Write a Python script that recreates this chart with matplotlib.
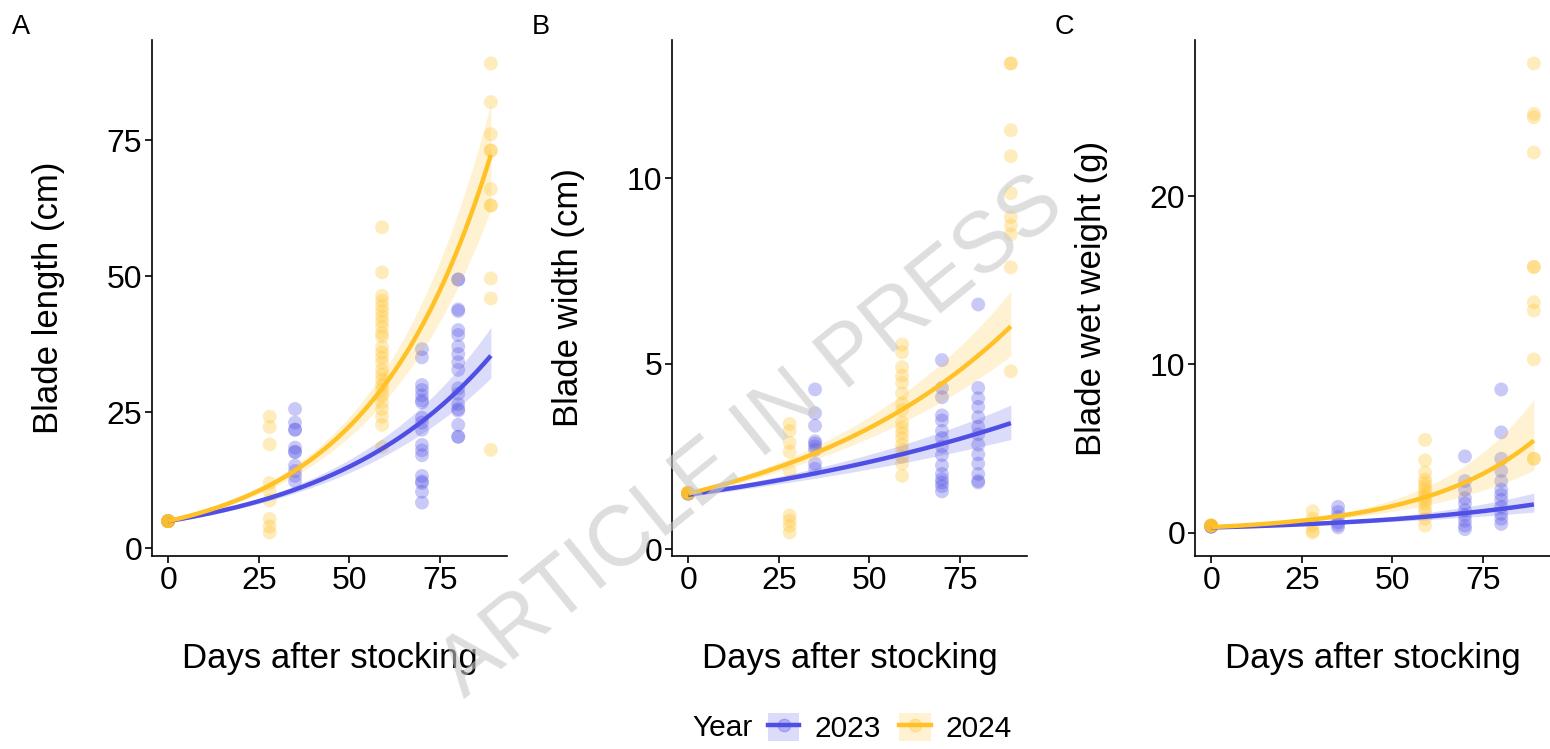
import matplotlib.pyplot as plt
from matplotlib.lines import Line2D
from matplotlib.patches import Patch
import numpy as np

plt.rcParams['font.family'] = ['Liberation Sans', 'DejaVu Sans']

# ---------------- data ----------------
years = ['2023', '2024']
col_2023 = '#4F4FE6'
col_2024 = '#FFC125'

# blade length (cm), values per sampling day
length_2023 = {0: [5.0, 5.0, 5.0],
               35: [25.6, 23.1, 21.8, 21.8, 18.5, 17.7, 17.7, 15.2, 14.2, 13.3, 12.3],
               70: [36.6, 35.1, 30.0, 29.1, 28.1, 27.2, 26.8, 24.0, 23.1, 21.8, 19.0, 18.0,
                    17.1, 13.3, 12.3, 12.0, 10.4, 8.4],
               80: [49.4, 49.4, 43.9, 43.6, 40.1, 39.2, 37.1, 35.7, 34.2, 32.8, 29.4, 28.4,
                    26.5, 25.6, 25.3, 22.7, 20.5, 20.5]}
length_2024 = {0: [5.0] * 8,
               28: [24.2, 22.3, 19.1, 12.0, 10.5, 8.8, 5.4, 4.0, 2.9],
               59: [59.0, 50.7, 46.4, 45.5, 44.5, 43.6, 42.6, 41.7, 40.7, 39.5, 38.9, 37.0,
                    36.0, 35.1, 34.1, 32.8, 31.9, 31.0, 30.0, 29.1, 28.1, 26.8, 25.6, 24.2,
                    22.7, 18.6],
               89: [89.1, 82.0, 76.1, 73.1, 73.1, 66.0, 63.0, 63.0, 49.6, 45.9, 18.1]}

# blade width (cm)
width_2023 = {0: [1.5, 1.5, 1.5],
              35: [4.31, 3.67, 3.33, 2.91, 2.85, 2.77, 2.68, 2.31, 2.17],
              70: [5.10, 4.35, 4.10, 3.61, 3.47, 3.19, 3.00, 2.77, 2.54, 2.26, 2.03, 1.89,
                   1.80, 1.70, 1.56],
              80: [6.60, 4.35, 4.07, 3.84, 3.56, 3.30, 3.10, 2.82, 2.56, 2.31, 2.03, 1.84, 1.80]}
width_2024 = {0: [1.52] * 8,
              28: [3.38, 3.19, 2.87, 2.63, 2.12, 0.91, 0.77, 0.63, 0.45],
              59: [5.52, 5.31, 4.91, 4.68, 4.49, 4.21, 3.93, 3.75, 3.42, 3.28, 3.14, 3.00,
                   2.82, 2.68, 2.49, 2.31, 1.98],
              89: [13.1, 13.1, 11.3, 10.6, 9.6, 8.96, 8.73, 8.49, 7.6, 4.8]}

# blade wet weight (g)
weight_2023 = {0: [0.35, 0.35, 0.35],
               35: [1.53, 1.22, 0.92, 0.61, 0.45, 0.31],
               70: [4.53, 3.06, 2.55, 2.04, 1.73, 1.33, 1.02, 0.71, 0.41, 0.20],
               80: [8.51, 5.96, 4.39, 3.67, 3.06, 2.55, 2.24, 1.94, 1.53, 1.12, 0.82, 0.51]}
weight_2024 = {0: [0.41] * 8,
               28: [1.27, 0.82, 0.41, 0.10, 0.0],
               59: [5.51, 4.29, 3.57, 3.16, 2.96, 2.76, 2.55, 2.35, 2.14, 1.94, 1.73, 1.43,
                    1.22, 0.82, 0.41],
               89: [27.9, 24.9, 24.7, 22.6, 15.8, 15.8, 13.7, 13.2, 10.3, 4.39, 4.39]}

# fitted exponential curves: value at day 0, value at day 89, ribbon at day 89 (lo, hi)
fit_start = {'A': (5.0, 5.0), 'B': (1.47, 1.50), 'C': (0.30, 0.32)}
fit_end = {'A': (35.4, 72.3), 'B': (3.40, 6.01), 'C': (1.67, 5.47)}
band_end = {'A': ((31.3, 40.6), (62.2, 81.8)),
            'B': ((2.96, 3.89), (5.22, 6.96)),
            'C': ((1.22, 2.35), (3.71, 7.92))}

panels = ['A', 'B', 'C']
ylabels = ['Blade length (cm)', 'Blade width (cm)', 'Blade wet weight (g)']
yticks = [[0, 25, 50, 75], [0, 5, 10], [0, 10, 20]]
xticks = [0, 25, 50, 75]
series = {'A': (length_2023, length_2024),
          'B': (width_2023, width_2024),
          'C': (weight_2023, weight_2024)}

# ------------------------------------------------------------
fig = plt.figure(figsize=(15.5, 7.49), dpi=100)
lefts = [152 / 1550, 672 / 1550, 1195 / 1550]
W = 355 / 1550
B0 = 1 - 556 / 749
H = (556 - 40) / 749
xgrid = np.linspace(0, 89, 200)

for k, p in enumerate(panels):
    ax = fig.add_axes([lefts[k], B0, W, H])
    allv = []
    for j, (yr, col) in enumerate(zip(years, [col_2023, col_2024])):
        d = series[p][j]
        xs, ys = [], []
        for day, vals in d.items():
            xs += [day] * len(vals)
            ys += vals
        allv += ys
        ax.scatter(xs, ys, s=100, color=col, alpha=0.3, edgecolors='none', zorder=2 + j)

    for j, col in enumerate([col_2023, col_2024]):
        a = fit_start[p][j]
        e = fit_end[p][j]
        b = np.log(e / a) / 89
        fit = a * np.exp(b * xgrid)
        lo, hi = band_end[p][j]
        wu, wl = np.log(hi / e), np.log(e / lo)
        t = xgrid / 89
        w0 = 0.04
        up = fit * np.exp(np.sqrt(w0 ** 2 + t ** 2 * (wu ** 2 - w0 ** 2)))
        dn = fit * np.exp(-np.sqrt(w0 ** 2 + t ** 2 * (wl ** 2 - w0 ** 2)))
        ax.fill_between(xgrid, dn, up, color=col, alpha=0.2, lw=0, zorder=4)
        ax.plot(xgrid, fit, color=col, lw=3.2, zorder=5 + j, solid_capstyle='butt')

    vmin, vmax = min(allv), max(allv)
    pad = 0.05 * (vmax - vmin)
    ax.set_ylim(vmin - pad, vmax + pad)
    ax.set_xlim(-4.45, 93.45)
    ax.set_xticks(xticks)
    ax.set_yticks(yticks[k])
    for s in ['top', 'right']:
        ax.spines[s].set_visible(False)
    for s in ['left', 'bottom']:
        ax.spines[s].set_linewidth(1.2)
    ax.tick_params(labelsize=23, length=5, width=1.2, colors='black', pad=2)
    ax.set_xlabel('Days after stocking', fontsize=25, labelpad=33)
    ax.set_ylabel(ylabels[k], fontsize=25, labelpad=30)
    fig.text((lefts[k] * 1550 - 131) / 1550, 1 - 27 / 749, p, fontsize=19.5,
             ha='center', va='center')

# watermark
fig.text(0.485, 0.415, 'ARTICLE IN PRESS', fontsize=61, color='#c8c8c8', alpha=0.6,
         rotation=39, ha='center', va='center', zorder=10)

# legend
handles = []
for col in [col_2023, col_2024]:
    handles.append((Patch(facecolor=col, alpha=0.2, edgecolor='none'),
                    Line2D([], [], color=col, lw=3.2),
                    Line2D([], [], color=col, marker='o', ms=9, alpha=0.3, lw=0)))
fig.legend(handles, years, loc='center', bbox_to_anchor=(0.574, 1 - 728 / 749), ncol=2,
           frameon=False, fontsize=21.5, handlelength=1.07, handleheight=1.1,
           columnspacing=0.6, handletextpad=0.5)
fig.text(0.466, 1 - 728 / 749, 'Year', fontsize=21.5, ha='center', va='center')

fig.savefig('out.png', dpi=100)
